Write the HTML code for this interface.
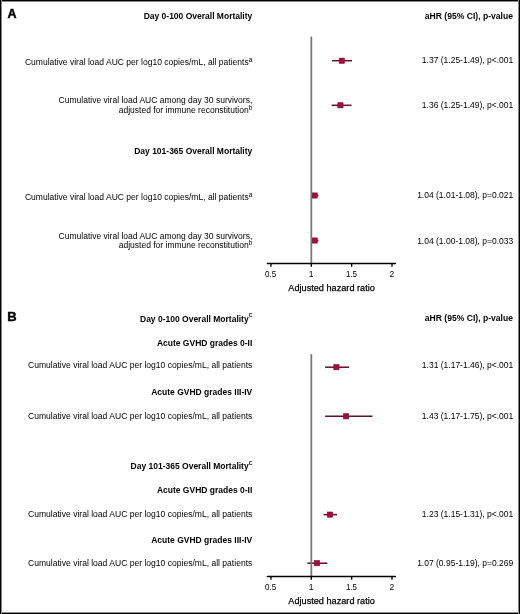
<!DOCTYPE html>
<html><head><meta charset="utf-8"><style>
html,body{margin:0;padding:0;background:#fff;}
body{width:520px;height:614px;overflow:hidden;position:relative;}
svg{position:absolute;left:0;top:0;display:block;will-change:transform;filter:blur(0.3px);}
svg text{font-family:"Liberation Sans", sans-serif;fill:#000;}
</style></head><body>
<svg width="520" height="614" viewBox="0 0 520 614">
<rect x="0" y="0" width="520" height="614" fill="#fff"/>
<text x="7.6" y="17.8" font-size="12.5" font-weight="bold" text-anchor="start" stroke="#000" stroke-width="0.45">A</text>
<text x="252.3" y="19" font-size="8.5" font-weight="bold" text-anchor="end">Day 0-100 Overall Mortality</text>
<text x="513.0" y="19" font-size="8.5" font-weight="bold" text-anchor="end" textLength="88.2" lengthAdjust="spacingAndGlyphs">aHR (95% CI), p-value</text>
<text x="252.3" y="65" font-size="8.5" text-anchor="end"><tspan textLength="223.8" lengthAdjust="spacingAndGlyphs">Cumulative viral load AUC per log10 copies/mL, all patients</tspan><tspan font-size="6.5" dy="-3.5">a</tspan></text>
<text x="513.3" y="63" font-size="8.5" text-anchor="end">1.37 (1.25-1.49), p&lt;.001</text>
<text x="252.3" y="103" font-size="8.5" text-anchor="end">Cumulative viral load AUC among day 30 survivors,</text>
<text x="252.3" y="113" font-size="8.5" text-anchor="end"><tspan>adjusted for immune reconstitution</tspan><tspan font-size="6.5" dy="-3.5">b</tspan></text>
<text x="513.3" y="108" font-size="8.5" text-anchor="end">1.36 (1.25-1.49), p&lt;.001</text>
<text x="252.3" y="154" font-size="8.5" font-weight="bold" text-anchor="end">Day 101-365 Overall Mortality</text>
<text x="252.3" y="200" font-size="8.5" text-anchor="end"><tspan textLength="223.8" lengthAdjust="spacingAndGlyphs">Cumulative viral load AUC per log10 copies/mL, all patients</tspan><tspan font-size="6.5" dy="-3.5">a</tspan></text>
<text x="513.3" y="198" font-size="8.5" text-anchor="end">1.04 (1.01-1.08), p=0.021</text>
<text x="252.3" y="239" font-size="8.5" text-anchor="end">Cumulative viral load AUC among day 30 survivors,</text>
<text x="252.3" y="248" font-size="8.5" text-anchor="end"><tspan>adjusted for immune reconstitution</tspan><tspan font-size="6.5" dy="-3.5">b</tspan></text>
<text x="513.3" y="244" font-size="8.5" text-anchor="end">1.04 (1.00-1.08), p=0.033</text>
<line x1="332.08" y1="60.7" x2="352.04" y2="60.7" stroke="#5c1029" stroke-width="1.5"/>
<rect x="339.16" y="58.10" width="5.2" height="5.2" fill="#a80a3c" stroke="#7c0629" stroke-width="0.6"/>
<line x1="331.58" y1="105.3" x2="351.54" y2="105.3" stroke="#5c1029" stroke-width="1.5"/>
<rect x="337.85" y="102.70" width="5.2" height="5.2" fill="#a80a3c" stroke="#7c0629" stroke-width="0.6"/>
<line x1="312.21" y1="195.5" x2="318.46" y2="195.5" stroke="#5c1029" stroke-width="1.5"/>
<rect x="312.03" y="192.90" width="5.2" height="5.2" fill="#a80a3c" stroke="#7c0629" stroke-width="0.6"/>
<line x1="311.40" y1="240.5" x2="318.46" y2="240.5" stroke="#5c1029" stroke-width="1.5"/>
<rect x="312.03" y="237.90" width="5.2" height="5.2" fill="#a80a3c" stroke="#7c0629" stroke-width="0.6"/>
<rect x="310.45" y="36.5" width="1.75" height="226.5" fill="#787878"/>
<line x1="267.4" y1="263.4" x2="395.4" y2="263.4" stroke="#000" stroke-width="1.5" stroke-linecap="round"/>
<line x1="270.95" y1="263.4" x2="270.95" y2="266.79999999999995" stroke="#000" stroke-width="1.35"/>
<text x="270.75" y="277" font-size="8.5" text-anchor="middle" textLength="11.3" lengthAdjust="spacingAndGlyphs">0.5</text>
<line x1="311.30" y1="263.4" x2="311.30" y2="266.79999999999995" stroke="#000" stroke-width="1.35"/>
<text x="311.10" y="277" font-size="8.5" text-anchor="middle">1</text>
<line x1="351.65" y1="263.4" x2="351.65" y2="266.79999999999995" stroke="#000" stroke-width="1.35"/>
<text x="351.45" y="277" font-size="8.5" text-anchor="middle" textLength="11.0" lengthAdjust="spacingAndGlyphs">1.5</text>
<line x1="392.00" y1="263.4" x2="392.00" y2="266.79999999999995" stroke="#000" stroke-width="1.35"/>
<text x="391.80" y="277" font-size="8.5" text-anchor="middle">2</text>
<text x="331.6" y="291" font-size="9.5" text-anchor="middle" textLength="86.5" lengthAdjust="spacingAndGlyphs" stroke="#000" stroke-width="0.25">Adjusted hazard ratio</text>
<text x="7.2" y="321" font-size="13" font-weight="bold" text-anchor="start" stroke="#000" stroke-width="0.45">B</text>
<text x="252.3" y="321.5" font-size="8.5" font-weight="bold" text-anchor="end"><tspan>Day 0-100 Overall Mortality</tspan><tspan font-size="5" dy="-4.5">C</tspan></text>
<text x="513.0" y="321" font-size="8.5" font-weight="bold" text-anchor="end" textLength="88.2" lengthAdjust="spacingAndGlyphs">aHR (95% CI), p-value</text>
<text x="252.3" y="346" font-size="8.5" font-weight="bold" text-anchor="end">Acute GVHD grades 0-II</text>
<text x="252.3" y="368" font-size="8.5" text-anchor="end" textLength="224.3" lengthAdjust="spacingAndGlyphs">Cumulative viral load AUC per log10 copies/mL, all patients</text>
<text x="513.3" y="368" font-size="8.5" text-anchor="end">1.31 (1.17-1.46), p&lt;.001</text>
<text x="252.3" y="395" font-size="8.5" font-weight="bold" text-anchor="end">Acute GVHD grades III-IV</text>
<text x="252.3" y="419" font-size="8.5" text-anchor="end" textLength="224.3" lengthAdjust="spacingAndGlyphs">Cumulative viral load AUC per log10 copies/mL, all patients</text>
<text x="513.3" y="419" font-size="8.5" text-anchor="end">1.43 (1.17-1.75), p&lt;.001</text>
<text x="252.3" y="469" font-size="8.5" font-weight="bold" text-anchor="end"><tspan>Day 101-365 Overall Mortality</tspan><tspan font-size="5" dy="-4.5">C</tspan></text>
<text x="252.3" y="493" font-size="8.5" font-weight="bold" text-anchor="end">Acute GVHD grades 0-II</text>
<text x="252.3" y="517" font-size="8.5" text-anchor="end" textLength="224.3" lengthAdjust="spacingAndGlyphs">Cumulative viral load AUC per log10 copies/mL, all patients</text>
<text x="513.3" y="517" font-size="8.5" text-anchor="end">1.23 (1.15-1.31), p&lt;.001</text>
<text x="252.3" y="543" font-size="8.5" font-weight="bold" text-anchor="end">Acute GVHD grades III-IV</text>
<text x="252.3" y="566" font-size="8.5" text-anchor="end" textLength="224.3" lengthAdjust="spacingAndGlyphs">Cumulative viral load AUC per log10 copies/mL, all patients</text>
<text x="513.3" y="566" font-size="8.5" text-anchor="end">1.07 (0.95-1.19), p=0.269</text>
<line x1="325.12" y1="367.2" x2="349.12" y2="367.2" stroke="#5c1029" stroke-width="1.5"/>
<rect x="333.82" y="364.60" width="5.2" height="5.2" fill="#a80a3c" stroke="#7c0629" stroke-width="0.6"/>
<line x1="325.12" y1="416.3" x2="372.53" y2="416.3" stroke="#5c1029" stroke-width="1.5"/>
<rect x="343.50" y="413.70" width="5.2" height="5.2" fill="#a80a3c" stroke="#7c0629" stroke-width="0.6"/>
<line x1="323.51" y1="514.6" x2="337.02" y2="514.6" stroke="#5c1029" stroke-width="1.5"/>
<rect x="327.36" y="512.00" width="5.2" height="5.2" fill="#a80a3c" stroke="#7c0629" stroke-width="0.6"/>
<line x1="307.37" y1="563.2" x2="327.33" y2="563.2" stroke="#5c1029" stroke-width="1.5"/>
<rect x="314.45" y="560.60" width="5.2" height="5.2" fill="#a80a3c" stroke="#7c0629" stroke-width="0.6"/>
<rect x="310.45" y="354.2" width="1.75" height="222.2" fill="#787878"/>
<line x1="267.4" y1="576.4" x2="395.4" y2="576.4" stroke="#000" stroke-width="1.5" stroke-linecap="round"/>
<line x1="270.95" y1="576.4" x2="270.95" y2="579.8" stroke="#000" stroke-width="1.35"/>
<text x="270.75" y="590" font-size="8.5" text-anchor="middle" textLength="11.3" lengthAdjust="spacingAndGlyphs">0.5</text>
<line x1="311.30" y1="576.4" x2="311.30" y2="579.8" stroke="#000" stroke-width="1.35"/>
<text x="311.10" y="590" font-size="8.5" text-anchor="middle">1</text>
<line x1="351.65" y1="576.4" x2="351.65" y2="579.8" stroke="#000" stroke-width="1.35"/>
<text x="351.45" y="590" font-size="8.5" text-anchor="middle" textLength="11.0" lengthAdjust="spacingAndGlyphs">1.5</text>
<line x1="392.00" y1="576.4" x2="392.00" y2="579.8" stroke="#000" stroke-width="1.35"/>
<text x="391.80" y="590" font-size="8.5" text-anchor="middle">2</text>
<text x="331.6" y="604" font-size="9.5" text-anchor="middle" textLength="86.5" lengthAdjust="spacingAndGlyphs" stroke="#000" stroke-width="0.25">Adjusted hazard ratio</text>
<rect x="0" y="0" width="520" height="1" fill="#000"/>
<rect x="0" y="1" width="520" height="1" fill="#8a8a8a"/>
<rect x="0" y="613" width="520" height="1" fill="#000"/>
<rect x="0" y="612" width="520" height="1" fill="#8a8a8a"/>
<rect x="0" y="0" width="1" height="614" fill="#000"/>
<rect x="1" y="0" width="1" height="614" fill="#8a8a8a"/>
<rect x="519" y="0" width="1" height="614" fill="#000"/>
<rect x="518" y="0" width="1" height="614" fill="#8a8a8a"/>
</svg>
</body></html>
